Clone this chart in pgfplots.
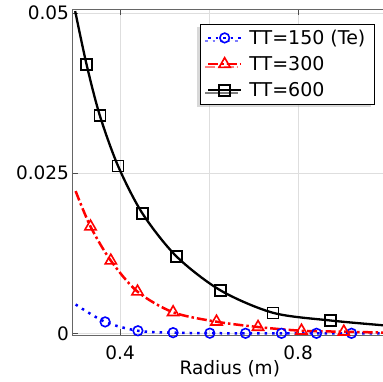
\documentclass[border=0pt]{standalone}
\usepackage{pgfplots}
\pgfplotsset{compat=1.18}
\usepackage{fontspec}
\setmainfont{DejaVu Sans}
\usetikzlibrary{shadows}
\begin{document}
\begin{tikzpicture}
\begin{axis}[
  scale only axis, width=314.6pt, height=326pt,
  xmin=0.293, xmax=1.0, ymin=-0.00031, ymax=0.05058,
  scaled y ticks=false, scaled x ticks=false,
  xtick={0.4,0.8}, xticklabels={0.4,0.8},
  minor xtick={0.6},
  ytick={0,0.025,0.05}, yticklabels={0,0.025,0.05},
  tick align=inside, ytick pos=left,
  major tick length=6pt, minor tick length=0pt,
  xmajorgrids, ymajorgrids, xminorgrids,
  every tick/.style={black!70, line width=0.9pt},
  major grid style={black!13, line width=0.8pt},
  minor grid style={black!13, line width=0.8pt},
  axis line style={black!60, line width=1.3pt},
  tick label style={font=\fontsize{18.5}{22}\selectfont},
  xticklabel style={yshift=-7pt},
  label style={font=\fontsize{18.5}{22}\selectfont},
  xlabel={Radius (m)},
  xlabel style={yshift=6pt},
  legend cell align=left,
  legend style={at={(0.9609,0.9563)}, anchor=north east, draw=black, line width=0.8pt, fill=white,
    font=\fontsize{19}{22}\selectfont,
    inner xsep=7pt, inner ysep=4pt, row sep=6.5pt, column sep=5pt,
    nodes={inner sep=2pt},
    drop shadow={shadow xshift=-3pt, shadow yshift=-3pt, fill=black!30}},
  legend image code/.code={\draw[mark repeat=2,mark phase=2,mark indices={2},#1] plot coordinates {(0cm,0cm) (0.58cm,0cm) (1.16cm,0cm)};},
]
\addplot[blue, line width=2.5pt, dash pattern=on 2.5pt off 5pt, smooth,
  mark=o, mark size=4.8pt, mark options={solid, line width=1.6pt},
  mark indices={2,3,4,5,6,7,8,9}] coordinates {
  (0.300,0.00450) (0.3663,0.00178) (0.440,0.00040) (0.519,0.00010)
  (0.6016,0.00002) (0.6818,0) (0.7627,0) (0.8413,0) (0.920,0) (1.0,0)
};
\addlegendentry{TT=150 (Te)}
\addplot[red, line width=2.5pt, dash pattern=on 10pt off 3pt on 2.5pt off 3pt, smooth,
  mark=triangle, mark size=6.5pt, mark options={solid, line width=1.6pt},
  mark indices={2,3,4,5,6,7,8,9}] coordinates {
  (0.300,0.0222) (0.3335,0.01666) (0.3791,0.01134) (0.4391,0.0065)
  (0.5191,0.00328) (0.6166,0.00181) (0.710,0.00098) (0.8076,0.00040)
  (0.9027,0.00025) (1.0,0.00010)
};
\addlegendentry{TT=300}
\addplot[black, line width=2.3pt, smooth,
  mark=square, mark size=5.5pt, mark options={solid, line width=1.6pt},
  mark indices={2,3,4,5,6,7,8,9}] coordinates {
  (0.299,0.0503) (0.3245,0.0420) (0.3544,0.0340) (0.3955,0.0261)
  (0.4503,0.0187) (0.5267,0.0120) (0.6256,0.0067) (0.7438,0.0032)
  (0.8728,0.0020) (1.0,0.0012)
};
\addlegendentry{TT=600}
\end{axis}
\pgfresetboundingbox
\path (-72.5pt,-46.7pt) rectangle (310.5pt,335.3pt);
\end{tikzpicture}
\end{document}
